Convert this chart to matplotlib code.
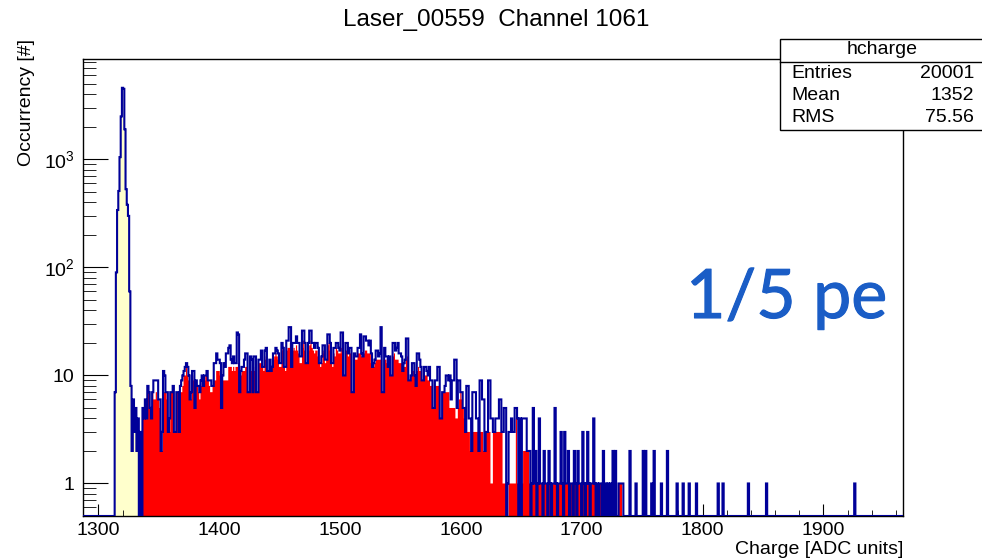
import numpy as np
import matplotlib.pyplot as plt
import matplotlib.patheffects as pe
from matplotlib.patches import Rectangle
from matplotlib.lines import Line2D
from matplotlib.ticker import FixedLocator, FixedFormatter, MultipleLocator, NullFormatter

plt.rcParams['font.family'] = ['Liberation Sans', 'DejaVu Sans']
plt.rcParams['mathtext.fontset'] = 'custom'
plt.rcParams['mathtext.rm'] = 'Liberation Sans'
plt.rcParams['mathtext.it'] = 'Liberation Sans:italic'

# histogram contents, 1 ADC bins
ped_start = 1314
ped_counts = [7, 90, 340, 510, 1050, 2500, 4600, 4500, 1900, 530, 380, 300,
              60, 8, 2, 6, 3, 5, 2, 4, 0, 3, 0]
yellow_end = 1333

sig_start = 1337
sig_blue = [5, 4, 6, 4, 8, 7, 5, 4, 7, 9,
            9, 9, 9, 6, 6, 2, 3, 11, 10, 7,
            7, 3, 4, 7, 7, 8, 3, 3, 7, 7,
            3, 8, 9, 10, 11, 12, 13, 12, 10, 6,
            7, 11, 11, 5, 9, 8, 8, 7, 9, 10,
            8, 10, 10, 11, 9, 9, 9, 8, 8, 13,
            13, 16, 14, 14, 13, 5, 10, 13, 12, 16,
            16, 18, 19, 14, 13, 15, 13, 13, 25, 24,
            7, 11, 12, 12, 14, 16, 16, 7, 7, 15,
            14, 7, 15, 15, 7, 7, 14, 14, 17, 12,
            12, 17, 18, 11, 11, 14, 11, 12, 16, 16,
            18, 17, 16, 13, 13, 20, 18, 12, 12, 21,
            21, 28, 28, 12, 20, 20, 20, 23, 20, 20,
            15, 15, 26, 26, 20, 13, 13, 20, 26, 26,
            20, 20, 18, 20, 20, 18, 13, 13, 15, 19,
            19, 14, 14, 24, 24, 20, 13, 13, 18, 18,
            20, 20, 18, 17, 25, 25, 10, 10, 20, 20,
            16, 18, 18, 7, 7, 16, 15, 15, 18, 18,
            24, 16, 15, 23, 23, 21, 21, 19, 21, 16,
            12, 13, 14, 17, 17, 15, 16, 28, 7, 7,
            18, 15, 15, 12, 15, 10, 10, 20, 20, 17,
            18, 20, 16, 16, 15, 11, 13, 14, 22, 22,
            9, 9, 10, 13, 13, 10, 8, 16, 16, 14,
            12, 9, 9, 12, 12, 11, 10, 12, 9, 9,
            5, 5, 9, 9, 12, 12, 4, 4, 7, 7,
            8, 10, 10, 9, 10, 6, 9, 9, 14, 14,
            5, 9, 9, 7, 7, 5, 5, 3, 8, 8,
            4, 4, 2, 7, 7, 7, 4, 4, 2, 9,
            9, 6, 6, 2, 3, 3, 9, 9, 4, 4,
            3, 3, 4, 4, 4, 6, 6, 3, 3, 5,
            5, 0, 1, 3, 3, 4, 3, 3, 5, 5,
            4, 0, 4, 0, 4, 4, 4, 4, 2, 2]
sig_red = [4, 4, 5, 4, 7, 7, 5, 4, 7, 6,
           6, 7, 6, 6, 5, 2, 2, 7, 7, 7,
           6, 3, 3, 7, 7, 7, 3, 3, 7, 7,
           3, 7, 7, 8, 10, 10, 12, 10, 9, 6,
           6, 10, 9, 5, 8, 8, 7, 6, 8, 9,
           8, 9, 10, 10, 9, 8, 7, 7, 8, 9,
           9, 11, 11, 11, 10, 5, 9, 9, 9, 9,
           9, 12, 12, 12, 11, 12, 11, 12, 12, 13,
           7, 10, 11, 11, 11, 12, 12, 7, 7, 11,
           11, 7, 11, 12, 7, 7, 13, 13, 13, 12,
           11, 14, 15, 11, 11, 13, 11, 12, 14, 15,
           16, 15, 14, 12, 12, 18, 17, 12, 11, 17,
           18, 18, 20, 12, 17, 18, 17, 19, 17, 16,
           13, 13, 18, 21, 17, 13, 13, 17, 19, 21,
           18, 17, 16, 17, 17, 15, 13, 12, 13, 17,
           16, 13, 14, 19, 20, 17, 13, 12, 16, 15,
           18, 17, 16, 16, 18, 16, 10, 10, 17, 17,
           15, 16, 16, 7, 7, 15, 14, 14, 16, 16,
           16, 15, 15, 16, 17, 17, 16, 16, 16, 13,
           12, 12, 13, 14, 14, 14, 14, 14, 7, 7,
           14, 14, 13, 12, 13, 10, 10, 15, 16, 14,
           14, 14, 13, 13, 13, 11, 12, 12, 14, 15,
           9, 9, 10, 11, 11, 10, 8, 11, 12, 11,
           11, 9, 9, 10, 10, 10, 9, 9, 8, 8,
           5, 5, 8, 8, 8, 8, 4, 4, 7, 7,
           7, 7, 7, 7, 5, 5, 5, 5, 5, 4,
           4, 5, 6, 7, 6, 5, 4, 3, 3, 3,
           3, 2, 2, 3, 3, 3, 3, 3, 2, 3,
           3, 3, 2, 2, 3, 3, 3, 3, 1, 1,
           3, 3, 3, 3, 3, 3, 3, 3, 1, 1,
           1, 0, 0, 1, 1, 1, 1, 1, 1, 4,
           1, 0, 1, 0, 1, 2, 2, 2, 2, 2]

low_start = 1657
low_blue = [2, 0, 1, 5, 1, 2, 0, 1, 4, 1,
            1, 0, 2, 1, 1, 0, 2, 1, 0, 1,
            1, 5, 1, 0, 1, 1, 3, 1, 0, 3,
            1, 1, 2, 0, 1, 1, 0, 2, 1, 0,
            2, 1, 1, 0, 3, 1, 0, 1, 3, 1,
            0, 1, 1, 4, 1, 0, 1, 0, 1, 1,
            0, 2, 0, 1, 0, 1, 0, 1, 0, 2,
            0, 2, 0, 0, 1, 1, 1, 1, 0]
low_red = [1, 0, 1, 3, 1, 1, 0, 1, 1, 1,
           1, 0, 1, 1, 1, 0, 1, 1, 0, 1,
           1, 3, 1, 0, 1, 1, 1, 1, 0, 2,
           1, 1, 1, 0, 1, 1, 0, 1, 1, 0,
           1, 1, 1, 0, 1, 1, 0, 1, 1, 1,
           0, 1, 1, 2, 1, 0, 1, 0, 1, 1,
           0, 1, 0, 1, 0, 0, 0, 1, 0, 2,
           0, 0, 0, 0, 1, 1, 1, 0, 0]

tail_adc = [1740, 1745, 1751, 1753, 1758, 1760, 1766, 1771, 1779, 1784,
            1789, 1795, 1813, 1817, 1838, 1853, 1926]
tail_blue = [2, 1, 2, 2, 1, 2, 1, 2, 1, 1, 1, 1, 1, 1, 1, 1, 1]
tail_red = [2, 0, 0, 0, 1, 2, 0, 0, 0, 1, 0, 1, 1, 1, 0, 0, 0]

stats_labels = ['Entries', 'Mean', 'RMS']
stats_values = ['20001', '1352', '75.56']

# build full bin arrays
lo_adc, hi_adc = 1287, 1966
adc = np.arange(lo_adc, hi_adc + 1)
blue = np.zeros(len(adc))
red = np.zeros(len(adc))


def put(arr, start, vals):
    arr[start - lo_adc:start - lo_adc + len(vals)] = vals


put(blue, ped_start, ped_counts)
put(blue, sig_start, sig_blue)
put(red, sig_start, sig_red)
put(blue, low_start, low_blue)
put(red, low_start, low_red)
blue[np.array(tail_adc) - lo_adc] = tail_blue
red[np.array(tail_adc) - lo_adc] = tail_red
edges = np.append(adc - 0.5, adc[-1] + 0.5)

ymin, ymax = 0.5, 8500
W, H = 982, 560
fig = plt.figure(figsize=(W / 100, H / 100), dpi=100)
ax = fig.add_axes([83 / W, 1 - 516 / H, (903 - 83) / W, (516 - 59) / H])
ax.set_yscale('log')

# pedestal fill (yellow), signal fill (red), total outline (blue)
i0, i1 = ped_start - lo_adc, yellow_end - lo_adc
ax.stairs(np.maximum(blue[i0:i1], ymin), edges[i0:i1 + 1], baseline=ymin,
          fill=True, color='#ffffcc', zorder=1)
ax.stairs(np.maximum(red, ymin), edges, baseline=ymin, fill=True,
          color='#ff0000', zorder=2)
ax.stairs(np.maximum(blue, ymin), edges, baseline=None, color='#000099',
          lw=1.5, zorder=3)

ax.set_xlim(1287.3, 1965.9)
ax.set_ylim(ymin, ymax)

ax.xaxis.set_major_locator(MultipleLocator(100))
ax.xaxis.set_minor_locator(MultipleLocator(20))
ax.yaxis.set_major_locator(FixedLocator([1, 10, 100, 1000]))
ax.yaxis.set_major_formatter(FixedFormatter(['1', '10', r'$10^{2}$', r'$10^{3}$']))
minors = [m * 10 ** e for e in range(-1, 4) for m in range(2, 10)]
ax.yaxis.set_minor_locator(FixedLocator([v for v in minors if ymin < v < ymax]))
ax.yaxis.set_minor_formatter(NullFormatter())

ax.tick_params(which='both', direction='in', top=False, right=False,
               labelsize=14, colors='black')
ax.tick_params(axis='y', which='major', length=18, pad=6)
ax.tick_params(axis='y', which='minor', length=9)
ax.tick_params(axis='x', which='major', length=9, pad=4)
ax.tick_params(axis='x', which='minor', length=4.5)
for s in ax.spines.values():
    s.set_linewidth(1.0)

ax.set_xlabel('Charge [ADC units]', loc='right', fontsize=14, labelpad=2)
ax.set_ylabel('Occurrency [#]', fontsize=14, ha='right')
ax.yaxis.set_label_coords(-0.058, 1.043)

fig.text(496 / W, 1 - 20 / H, 'Laser_00559  Channel 1061', ha='center',
         va='center', fontsize=17.5)

# stats box
bx0, by0, by1, bsep = 780, 130, 39, 61.7
fig.patches.append(Rectangle((bx0 / W, 1 - by0 / H), (W + 5 - bx0) / W,
                             (by0 - by1) / H, transform=fig.transFigure,
                             facecolor='white', edgecolor='black', lw=1.0,
                             clip_on=False, zorder=5))
fig.lines.append(Line2D([bx0 / W, 1.0], [1 - bsep / H] * 2,
                        transform=fig.transFigure, color='black', lw=1.0,
                        zorder=6))
fig.text(882 / W, 1 - 50 / H, 'hcharge', ha='center', va='center',
         fontsize=14, zorder=7)
for k, (lab, val) in enumerate(zip(stats_labels, stats_values)):
    yy = 1 - (73 + 22.5 * k) / H
    fig.text(791 / W, yy, lab, ha='left', va='center', fontsize=14, zorder=7)
    fig.text(974 / W, yy, val, ha='right', va='center', fontsize=14, zorder=7)

fig.text(686 / W, 1 - 318 / H, '1/5 pe', ha='left', va='baseline',
         fontsize=49, color='#1a5dc6', family=['Lato', 'DejaVu Sans'],
         path_effects=[pe.withStroke(linewidth=0.8, foreground='#1a5dc6')])

fig.savefig('out.png', dpi=100)
